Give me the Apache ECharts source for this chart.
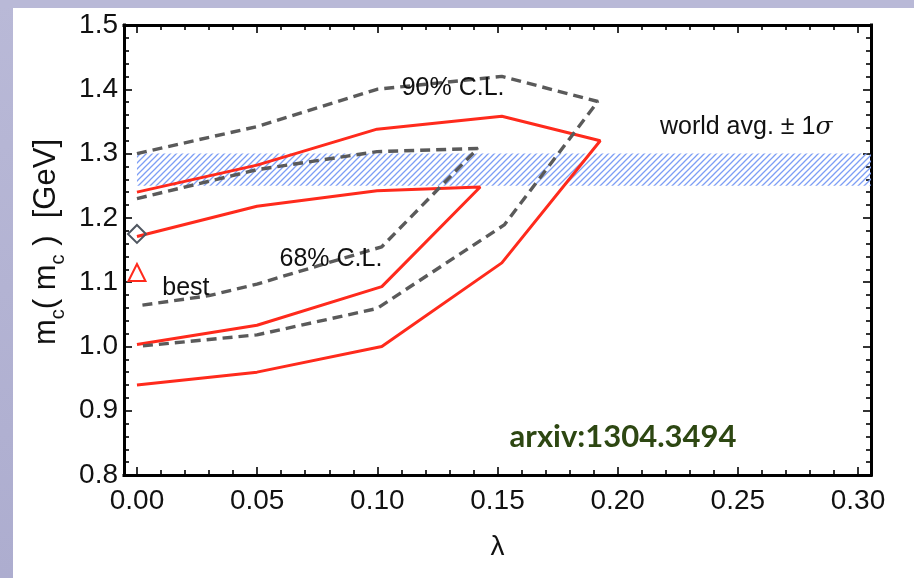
<!DOCTYPE html>
<html>
<head>
<meta charset="utf-8">
<script src="https://cdn.jsdelivr.net/npm/echarts@6/dist/echarts.min.js"></script>
<style>
  html, body { margin: 0; padding: 0; background: #ffffff; }
  #chart { width: 914px; height: 578px; }
</style>
</head>
<body>
<div id="chart"></div>
<script>
// Confidence contours in the (lambda, m_c(m_c)) plane
const red90Lambda  = [0, 0.05, 0.10, 0.152, 0.193, 0.152, 0.102, 0.05, 0];
const red90Mass    = [1.24, 1.282, 1.338, 1.358, 1.32, 1.13, 1.0, 0.96, 0.94];

const red68Lambda  = [0, 0.05, 0.10, 0.143, 0.102, 0.05, 0];
const red68Mass    = [1.171, 1.218, 1.242, 1.248, 1.093, 1.033, 1.003];

const gray90Lambda = [0, 0.05, 0.10, 0.152, 0.192, 0.153, 0.10, 0.05, 0];
const gray90Mass   = [1.30, 1.342, 1.40, 1.42, 1.381, 1.189, 1.059, 1.018, 1.0];

const gray68Lambda = [0, 0.05, 0.10, 0.142, 0.102, 0.05, 0.03, 0];
const gray68Mass   = [1.23, 1.275, 1.303, 1.308, 1.155, 1.097, 1.079, 1.063];

// Best-fit points
const bestLambda    = [0];
const bestMass      = [1.115];
const diamondLambda = [0];
const diamondMass   = [1.175];

// World average band (m_c = 1.275 +- 0.025 GeV), starting at lambda = 0
const worldAvgLow  = 1.25;
const worldAvgHigh = 1.30;

// Tick values
const lambdaTicks = [0, 0.05, 0.10, 0.15, 0.20, 0.25, 0.30];
const massTicks   = [0.8, 0.9, 1.0, 1.1, 1.2, 1.3, 1.4, 1.5];

// Text annotations placed in data coordinates
const noteText   = ['90% C.L.', '68% C.L.', 'best', 'world', 'arxiv'];
const noteLambda = [0.1317, 0.0808, 0.0204, 0.2538, 0.2025];
const noteMass   = [1.402, 1.136, 1.091, 1.341, 0.859];

// Frame extent on the lambda axis (the frame is padded slightly beyond 0 and 0.30)
const frameLambdaMin = -0.0054;
const frameLambdaMax = 0.3058;

const zip = (xs, ys) => xs.map((x, i) => [x, ys[i]]);

// Diagonal hatching used for the world-average band
function hatchPattern() {
  const c = document.createElement('canvas');
  const s = 6;
  c.width = s; c.height = s;
  const g = c.getContext('2d');
  g.strokeStyle = '#7d9ef5';
  g.lineWidth = 1.3;
  g.beginPath();
  g.moveTo(0, s); g.lineTo(s, 0);
  g.moveTo(-1, 1); g.lineTo(1, -1);
  g.moveTo(s - 1, s + 1); g.lineTo(s + 1, s - 1);
  g.stroke();
  return c;
}

const FONT = 'Liberation Sans, Arial, Helvetica, sans-serif';
const TXT = '#111111';

const chart = echarts.init(document.getElementById('chart'), null, { renderer: 'canvas' });

const tickAxisCommon = {
  type: 'value',
  min: lambdaTicks[0],
  max: lambdaTicks[lambdaTicks.length - 1],
  interval: 0.05,
  axisLine: { show: false, onZero: false },
  axisTick: { show: true, inside: true, length: 8, lineStyle: { color: '#000', width: 1.6 } },
  minorTick: { show: true, splitNumber: 5, length: 5, lineStyle: { color: '#000', width: 1.6 } },
  splitLine: { show: false },
  minorSplitLine: { show: false }
};

const frameLine = { show: true, onZero: false, lineStyle: { color: '#000', width: 3, cap: 'square' } };

const option = {
  backgroundColor: '#ffffff',
  animation: false,
  graphic: [
    {
      type: 'rect', left: 0, top: 0, z: -10,
      shape: { width: 13, height: 578 },
      style: { fill: new echarts.graphic.LinearGradient(0, 0, 0, 1, [
        { offset: 0, color: '#b9b9d7' }, { offset: 1, color: '#adadcf' }]) }
    },
    {
      type: 'rect', left: 0, top: 0, z: -10,
      shape: { width: 914, height: 8 },
      style: { fill: '#b9b9d7' }
    }
  ],
  grid: [
    { left: 124, right: 43, top: 25, bottom: 103 },
    { left: 137, right: 56, top: 25, bottom: 103 }
  ],
  xAxis: [
    {
      gridIndex: 0, type: 'value', position: 'bottom',
      min: frameLambdaMin, max: frameLambdaMax,
      axisLine: frameLine, axisTick: { show: false }, axisLabel: { show: false },
      splitLine: { show: false },
      name: 'λ', nameLocation: 'middle', nameGap: 58,
      nameTextStyle: { fontFamily: FONT, fontSize: 28, color: TXT }
    },
    {
      gridIndex: 0, type: 'value', position: 'top',
      min: frameLambdaMin, max: frameLambdaMax,
      axisLine: frameLine, axisTick: { show: false }, axisLabel: { show: false },
      splitLine: { show: false }
    },
    Object.assign({}, tickAxisCommon, {
      gridIndex: 1, position: 'bottom',
      axisLabel: {
        show: true, margin: 12, fontFamily: FONT, fontSize: 28, color: TXT,
        formatter: v => v.toFixed(2)
      }
    }),
    Object.assign({}, tickAxisCommon, {
      gridIndex: 1, position: 'top',
      axisLabel: { show: false }
    })
  ],
  yAxis: [
    {
      gridIndex: 0, type: 'value', position: 'left',
      min: massTicks[0], max: massTicks[massTicks.length - 1], interval: 0.1,
      axisLine: frameLine,
      axisTick: { show: true, inside: true, length: 8, lineStyle: { color: '#000', width: 1.6 } },
      minorTick: { show: true, splitNumber: 5, length: 5, lineStyle: { color: '#000', width: 1.6 } },
      splitLine: { show: false },
      axisLabel: {
        margin: 6, fontFamily: FONT, fontSize: 28, color: TXT,
        formatter: v => v.toFixed(1)
      },
      name: '{m|m}{s|c}{m|( m}{s|c}{m| )  [GeV]}',
      nameLocation: 'middle', nameRotate: 90, nameGap: 56,
      nameTextStyle: {
        padding: [0, 0, 0, 16],
        rich: {
          m: { fontFamily: FONT, fontSize: 31, color: TXT, verticalAlign: 'bottom', padding: [0, 0, 6, 0] },
          s: { fontFamily: FONT, fontSize: 20, color: TXT, verticalAlign: 'bottom' }
        }
      }
    },
    {
      gridIndex: 0, type: 'value', position: 'right',
      min: massTicks[0], max: massTicks[massTicks.length - 1], interval: 0.1,
      axisLine: frameLine,
      axisTick: { show: true, inside: true, length: 8, lineStyle: { color: '#000', width: 1.6 } },
      minorTick: { show: true, splitNumber: 5, length: 5, lineStyle: { color: '#000', width: 1.6 } },
      splitLine: { show: false },
      axisLabel: { show: false }
    },
    {
      gridIndex: 1, type: 'value', show: false,
      min: massTicks[0], max: massTicks[massTicks.length - 1]
    }
  ],
  series: [
    {
      name: 'world avg band', type: 'scatter', xAxisIndex: 0, yAxisIndex: 0,
      data: [], z: 1, silent: true,
      markArea: {
        silent: true,
        itemStyle: { color: { image: hatchPattern(), repeat: 'repeat' }, borderWidth: 0 },
        data: [[
          { xAxis: 0, yAxis: worldAvgLow },
          { xAxis: frameLambdaMax, yAxis: worldAvgHigh }
        ]]
      }
    },
    {
      name: '90% red', type: 'line', xAxisIndex: 0, yAxisIndex: 0, z: 3,
      data: zip(red90Lambda, red90Mass), symbol: 'none',
      lineStyle: { color: '#ff2a1c', width: 3 }
    },
    {
      name: '68% red', type: 'line', xAxisIndex: 0, yAxisIndex: 0, z: 3,
      data: zip(red68Lambda, red68Mass), symbol: 'none',
      lineStyle: { color: '#ff2a1c', width: 3 }
    },
    {
      name: '90% gray', type: 'line', xAxisIndex: 0, yAxisIndex: 0, z: 3,
      data: zip(gray90Lambda, gray90Mass), symbol: 'none',
      lineStyle: { color: '#5a5a5a', width: 3.4, type: [10, 6] }
    },
    {
      name: '68% gray', type: 'line', xAxisIndex: 0, yAxisIndex: 0, z: 3,
      data: zip(gray68Lambda, gray68Mass), symbol: 'none',
      lineStyle: { color: '#5a5a5a', width: 3.4, type: [10, 6] }
    },
    {
      name: 'diamond', type: 'scatter', xAxisIndex: 0, yAxisIndex: 0, z: 4,
      data: zip(diamondLambda, diamondMass), symbol: 'diamond', symbolSize: 18,
      itemStyle: { color: 'rgba(0,0,0,0)', borderColor: '#4f5660', borderWidth: 2, opacity: 1 }
    },
    {
      name: 'best', type: 'scatter', xAxisIndex: 0, yAxisIndex: 0, z: 4,
      data: zip(bestLambda, bestMass), symbol: 'triangle', symbolSize: 17,
      itemStyle: { color: 'rgba(0,0,0,0)', borderColor: '#ff2a1c', borderWidth: 2, opacity: 1 }
    },
    {
      name: 'notes', type: 'scatter', xAxisIndex: 0, yAxisIndex: 0, z: 6,
      symbolSize: 1, itemStyle: { color: 'rgba(0,0,0,0)', opacity: 1 }, silent: true,
      data: noteText.map((t, i) => ({ name: t, value: [noteLambda[i], noteMass[i]] })),
      label: {
        show: true, position: 'inside',
        formatter: p => {
          if (p.name === 'world') return '{n|world avg. ± 1}{i|σ}';
          if (p.name === 'arxiv') return '{a|arxiv:1304.3494}';
          return '{n|' + p.name + '}';
        },
        rich: {
          n: { fontFamily: FONT, fontSize: 25, color: TXT },
          i: { fontFamily: 'DejaVu Serif, serif', fontStyle: 'italic', fontSize: 25, color: TXT },
          a: { fontFamily: 'Lato, sans-serif', fontWeight: 'bold', fontSize: 31, color: '#2d4712' }
        }
      }
    }
  ]
};

chart.setOption(option);
</script>
</body>
</html>
